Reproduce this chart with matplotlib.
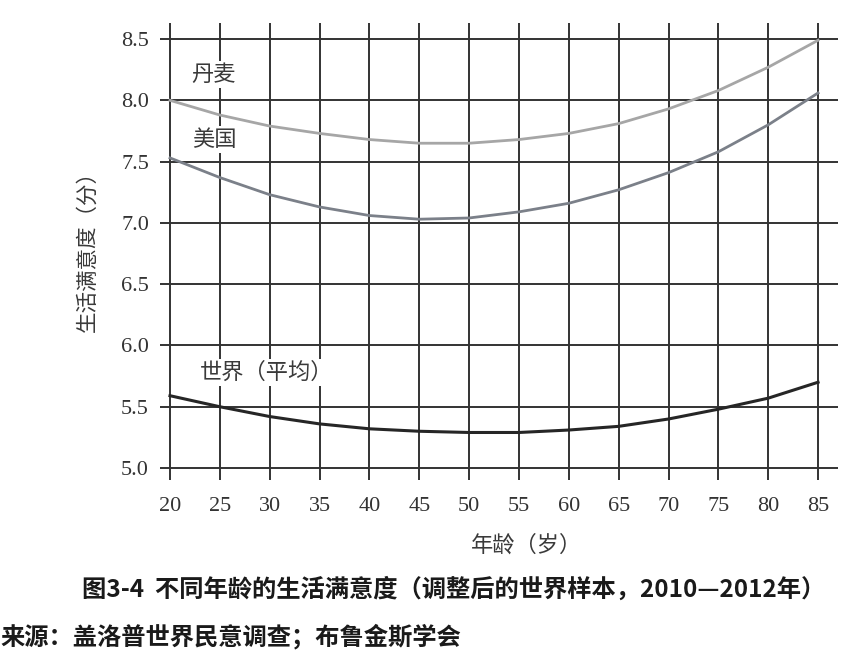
import matplotlib
matplotlib.use("Agg")
import matplotlib.pyplot as plt

ages = [20, 25, 30, 35, 40, 45, 50, 55, 60, 65, 70, 75, 80, 85]
denmark = [8.00, 7.88, 7.79, 7.73, 7.68, 7.65, 7.65, 7.68, 7.73, 7.81, 7.93, 8.08, 8.27, 8.49]
usa = [7.53, 7.37, 7.23, 7.13, 7.06, 7.03, 7.04, 7.09, 7.16, 7.27, 7.41, 7.58, 7.80, 8.06]
world = [5.59, 5.50, 5.42, 5.36, 5.32, 5.30, 5.29, 5.29, 5.31, 5.34, 5.40, 5.48, 5.57, 5.70]
yticks = [5.0, 5.5, 6.0, 6.5, 7.0, 7.5, 8.0, 8.5]

cjk = ["Noto Sans CJK SC", "DejaVu Sans"]
grid_color = "#333333"

fig = plt.figure(figsize=(8.65, 6.62), dpi=100)
ax = fig.add_axes([0.185, 0.2745, 0.7838, 0.6906])
ax.set_xlim(19, 87)
ax.set_ylim(4.90, 8.63)
for s in ax.spines.values():
    s.set_visible(False)

# grid lines overshoot the data range like in the book figure
ax.hlines(yticks, 19, 87, color=grid_color, lw=1.4, zorder=1)
ax.vlines(ages, 4.90, 8.63, color=grid_color, lw=1.4, zorder=1)

ax.plot(ages, denmark, color="#a6a6a6", lw=2.0, zorder=3, solid_joinstyle="round")
ax.plot(ages, usa, color="#7b8089", lw=2.0, zorder=3, solid_joinstyle="round")
ax.plot(ages, world, color="#262626", lw=2.2, zorder=3, solid_joinstyle="round")

box = dict(facecolor="white", edgecolor="none", pad=1.5)
ax.text(22.1, 8.21, "丹麦", family=cjk, fontsize=16, color="#3a3a3a", va="center", ha="left", bbox=box, zorder=4)
ax.text(22.2, 7.68, "美国", family=cjk, fontsize=16, color="#3a3a3a", va="center", ha="left", bbox=box, zorder=4)
ax.text(23.0, 5.78, "世界（平均）", family=cjk, fontsize=16, color="#3a3a3a", va="center", ha="left", bbox=box, zorder=4)

ax.set_xticks(ages)
ax.set_xticklabels([str(a) for a in ages], family="Liberation Serif", fontsize=16, color="#333333")
ax.set_yticks(yticks)
ax.set_yticklabels([f"{v:.1f}" for v in yticks], family="Liberation Serif", fontsize=16, color="#333333")
ax.tick_params(axis="x", length=0, pad=12)
ax.tick_params(axis="y", length=0, pad=8)

fig.text(88 / 865, 1 - 246 / 662, "生活满意度（分）", family=cjk, fontsize=15.5, color="#3a3a3a",
         rotation=90, ha="center", va="center")
fig.text(527 / 865, 1 - 545 / 662, "年龄（岁）", family=cjk, fontsize=16, color="#3a3a3a",
         ha="center", va="center")
fig.text(82 / 865, 1 - 590 / 662, "图3-4  不同年龄的生活满意度（调整后的世界样本，2010—2012年）",
         family=cjk, fontsize=17.5, weight="bold", color="#1a1a1a", ha="left", va="center")
fig.text(0.0, 1 - 637 / 662, "来源：盖洛普世界民意调查；布鲁金斯学会",
         family=cjk, fontsize=17.5, weight="bold", color="#1a1a1a", ha="left", va="center")

fig.savefig("out.png", dpi=100)
